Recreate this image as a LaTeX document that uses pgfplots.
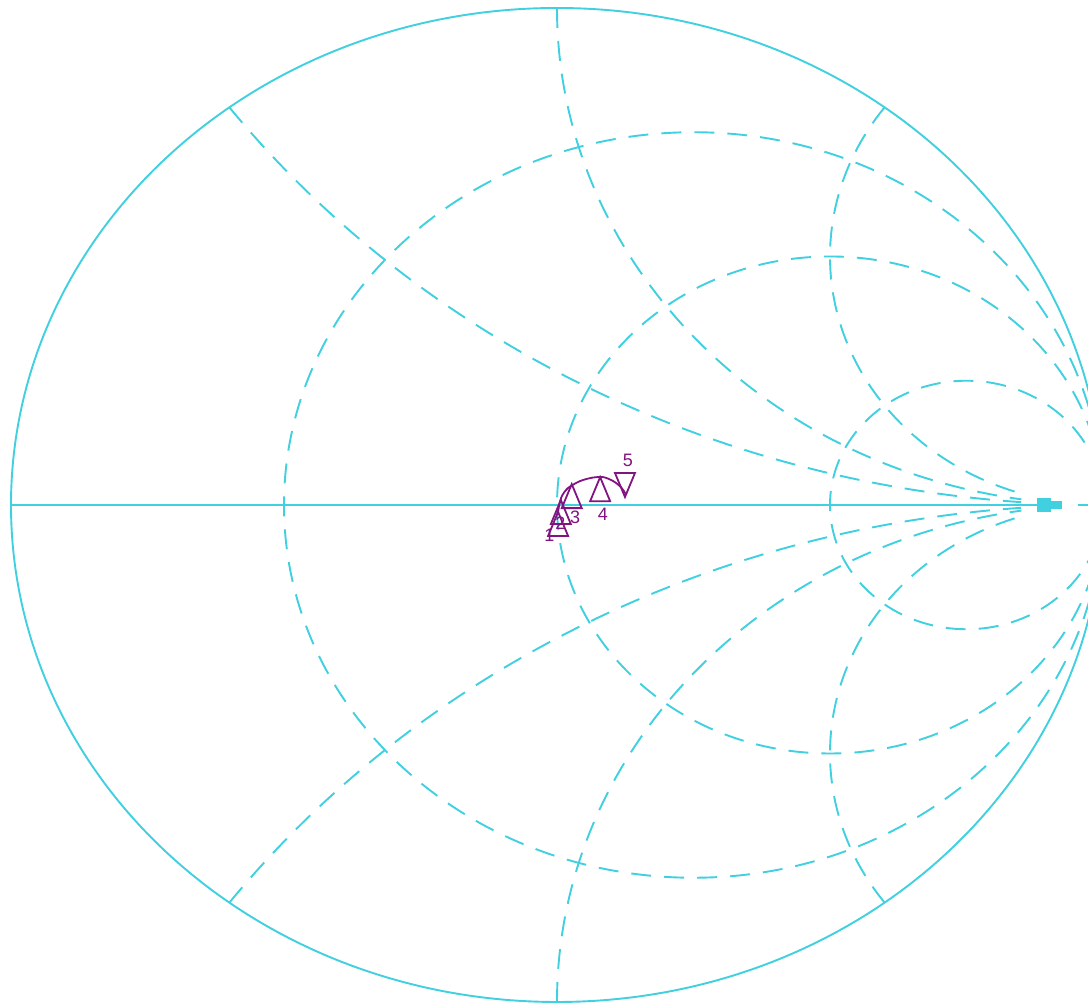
\documentclass[border=0pt]{standalone}
\usepackage{fontspec}
\setmainfont{Liberation Sans}
\usepackage{pgfplots}
\pgfplotsset{compat=1.18}
\definecolor{smith}{RGB}{64,208,224}
\definecolor{trace}{RGB}{130,20,130}
\begin{document}
\begin{tikzpicture}
\useasboundingbox (0,0) rectangle (544pt,502pt);
\clip (0,0) rectangle (544pt,502pt);
\fill[white] (0,0) rectangle (544pt,502pt);
% Smith chart grid (Gamma plane), 1 unit = 273pt horizontally, 248.5pt vertically
\begin{scope}[shift={(278.5pt,249.5pt)}, x=273pt, y=248.5pt, smith, line width=0.95pt]
  \draw (0,0) circle[radius=1];
  \draw (-1,0) -- (0.925,0);
  \draw (0.954,0) -- (1.05,0);
  \fill (0.880,-0.014) rectangle (0.904,0.014);
  \fill (0.904,-0.008) rectangle (0.925,0.008);
  \begin{scope}[dash pattern=on 10pt off 6.5pt]
    % constant resistance circles r = 1/3, 1, 3
    \draw (0.25,0) circle[radius=0.75];
    \draw (0.5,0) circle[radius=0.5];
    \draw (0.75,0) circle[radius=0.25];
    % constant reactance arcs x = +-0.5, +-1, +-2
    \draw (-0.6,0.8) arc[start angle=216.87, end angle=265.7, radius=2];
    \draw (-0.6,-0.8) arc[start angle=-216.87, end angle=-265.7, radius=2];
    \draw (0,1) arc[start angle=180, end angle=261.4, radius=1];
    \draw (0,-1) arc[start angle=-180, end angle=-261.4, radius=1];
    \draw (0.6,0.8) arc[start angle=143.13, end angle=252.5, radius=0.5];
    \draw (0.6,-0.8) arc[start angle=-143.13, end angle=-252.5, radius=0.5];
  \end{scope}
\end{scope}
\begin{axis}[at={(0,0)}, anchor=south west, scale only axis,
  width=544pt, height=502pt,
  xmin=-1.0201, xmax=0.9725, ymin=-1.004, ymax=1.0161,
  hide axis, clip=true]
  \addplot[trace, line width=0.9pt, smooth] coordinates {
    (0.002,-0.016) (0.004,0.0) (0.009,0.018) (0.020,0.034) (0.042,0.048)
    (0.065,0.055) (0.085,0.056) (0.103,0.048) (0.117,0.036) (0.126,0.022)};
  \addplot[trace, only marks, mark=triangle, mark size=8pt,
    mark options={line width=0.9pt, yshift=-8pt, xscale=0.72}] coordinates {
    (0.002,-0.014) (0.007,0.010) (0.027,0.042) (0.079,0.056)};
  \addplot[trace, only marks, mark=triangle, mark size=8pt,
    mark options={line width=0.9pt, yshift=8pt, rotate=180, xscale=0.72}] coordinates {
    (0.1245,0.016)};
  \begin{scope}[every node/.style={trace, inner sep=0pt, font=\fontsize{9}{9}\selectfont}]
    \node at (axis cs:0.084,-0.018) {4};
    \node at (axis cs:0.130,0.090) {5};
    \node at (axis cs:0.033,-0.024) {3};
    \node at (axis cs:0.006,-0.036) {2};
    \node at (axis cs:-0.014,-0.062) {1};
  \end{scope}
\end{axis}
\end{tikzpicture}
\end{document}
